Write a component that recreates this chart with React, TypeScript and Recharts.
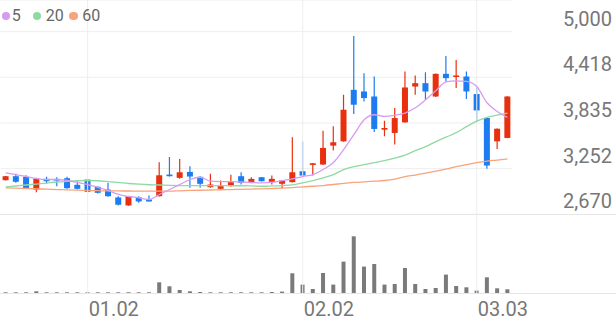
import React from 'react';
import { ComposedChart, Bar, Line, XAxis, YAxis, CartesianGrid, ReferenceLine } from 'recharts';

const dates = ['12.18','12.19','12.22','12.23','12.24','12.26','12.29','12.30','01.02','01.05','01.06','01.07','01.08','01.09','01.12','01.13','01.14','01.15','01.16','01.19','01.20','01.21','01.22','01.23','01.26','01.27','01.28','01.29','01.30','02.02','02.03','02.04','02.05','02.06','02.09','02.10','02.11','02.12','02.13','02.19','02.20','02.23','02.24','02.25','02.26','02.27','03.03','03.04','03.05','03.06'];
const opens = [3105,3156,3148,2986,3122,3122,3130,3046,3113,3021,2986,2885,2783,2885,2859,2901,3177,3135,3211,3148,3016,2995,3029,3156,3071,3143,3084,3059,3080,3219,3300,3305,3546,3601,4258,4237,4173,3750,3708,3843,4300,4343,4173,4462,4428,4428,4204,3898,3601,3644];
const highs = [3160,3186,3168,3135,3148,3143,3148,3092,3122,3028,3071,2901,2905,2901,2910,3334,3402,3377,3283,3156,3186,3101,3173,3206,3143,3147,3165,3105,3652,3600,3325,3737,3792,4195,4945,4471,4428,3864,4025,4491,4440,4483,4466,4691,4640,4491,4288,3902,3766,4177];
const lows = [3100,3072,2995,2952,3063,3028,2995,2986,2952,2936,2893,2783,2780,2817,2830,2897,3152,3122,3008,3008,3008,2990,3025,3050,3067,3088,3050,2999,3076,3160,3164,3300,3483,3597,3949,4110,3720,3665,3559,3839,4195,4131,4165,4364,4280,4140,3855,3250,3504,3640];
const closes = [3156,3085,3003,3126,3092,3100,3003,2995,2957,2944,2901,2792,2901,2834,2834,3168,3156,3206,3152,3059,3050,3029,3080,3071,3122,3092,3122,3101,3206,3164,3321,3517,3589,4004,4068,4153,3759,3771,3898,4288,4343,4237,4462,4407,4441,4237,3995,3292,3762,4173];
const ma5 = [3199,3177,3152,3126,3114,3114,3101,3076,3050,3012,2974,2923,2897,2881,2859,2923,2986,3050,3114,3143,3092,3088,3088,3082,3076,3072,3076,3101,3122,3152,3177,3241,3330,3495,3686,3877,3940,3919,3934,3962,4029,4131,4246,4360,4373,4367,4300,4093,3982,3906];
const ma20 = [3020,3031,3044,3056,3069,3082,3091,3098,3101,3098,3088,3076,3063,3054,3047,3044,3040,3037,3037,3037,3037,3036,3035,3034,3032,3028,3032,3037,3046,3072,3101,3135,3177,3241,3279,3304,3330,3355,3387,3425,3483,3533,3597,3654,3711,3788,3858,3906,3934,3962];
const ma60 = [3008,3004,2999,2995,2990,2986,2981,2978,2974,2971,2969,2968,2967,2966,2965,2965,2966,2970,2974,2977,2980,2983,2986,2989,2992,2995,2999,3004,3011,3021,3028,3037,3050,3065,3076,3084,3092,3101,3120,3152,3171,3196,3222,3247,3279,3304,3330,3349,3362,3377];
const volumes = [10,10,10,20,10,10,10,10,10,10,10,10,10,10,10,110,70,33,20,13,10,10,10,10,10,10,13,17,200,87,43,203,87,317,570,267,293,87,93,253,93,43,53,187,73,60,27,160,50,40];

const xTickLabels = ['01.02', '02.02', '03.03'];
const yTickValues = [2670, 3252.5, 3835, 4417.5, 5000];
const yTickLabels = ['2,670', '3,252', '3,835', '4,418', '5,000'];
const legendItems = [
  { label: '5', color: '#d79bf0' },
  { label: '20', color: '#8fd9a3' },
  { label: '60', color: '#f7a47c' },
];

const data = dates.map((d, i) => ({
  date: d,
  open: opens[i],
  high: highs[i],
  low: lows[i],
  close: closes[i],
  range: [lows[i], highs[i]],
  ma5: ma5[i],
  ma20: ma20[i],
  ma60: ma60[i],
  volume: volumes[i],
}));

const RED = '#e8300e';
const BLUE = '#1c7cf0';
const GRID = '#eeeeee';
const FONT = 'Roboto, sans-serif';

const Candle = (props: any) => {
  const { x, y, width, height, payload } = props;
  if (!payload) return null;
  const { open, close, high, low } = payload;
  const top = Math.min(y, y + height);
  const h = Math.abs(height);
  const ratio = h / (high - low);
  const yOf = (v: number) => top + (high - v) * ratio;
  const up = close >= open;
  const color = up ? RED : BLUE;
  const bTop = yOf(Math.max(open, close));
  const bBot = yOf(Math.min(open, close));
  const cx = x + width / 2;
  return (
    <g>
      <line x1={cx} x2={cx} y1={top} y2={top + h} stroke={color} strokeWidth={1.2} />
      <rect x={x} y={bTop} width={width} height={Math.max(1.5, bBot - bTop)} fill={color} />
    </g>
  );
};

const YTick = (props: any) => {
  const { y, payload } = props;
  const idx = yTickValues.indexOf(payload.value);
  return (
    <text x={612} y={y - 6} textAnchor="end" fontSize={20} fill="#777" fontFamily={FONT}>
      {idx >= 0 ? yTickLabels[idx] : ''}
    </text>
  );
};

const XTick = (props: any) => {
  const { x, y, payload } = props;
  return (
    <text x={x + 1} y={y + 22.7} textAnchor="start" fontSize={20} fill="#777" fontFamily={FONT}>
      {payload.value}
    </text>
  );
};

export default function App() {
  return (
    <div style={{ position: 'absolute', left: 0, top: 0, width: 616, height: 321, background: '#fff', overflow: 'hidden', fontFamily: FONT }}>
      <div style={{ position: 'absolute', left: 0, top: 0 }}>
        <ComposedChart width={616} height={215} data={data} margin={{ top: 0, right: 0, bottom: 0.7, left: 0.6 }}>
          <CartesianGrid vertical={false} stroke={GRID} />
          <XAxis dataKey="date" hide />
          <YAxis
            orientation="right"
            width={103.4}
            domain={[2670, 5404]}
            ticks={yTickValues}
            interval={0}
            tick={<YTick />}
            axisLine={false}
            tickLine={false}
            allowDataOverflow
          />
          {xTickLabels.map((t) => (
            <ReferenceLine key={t} x={t} stroke={GRID} />
          ))}
          <Line type="monotone" dataKey="ma60" stroke="#f7a47c" strokeWidth={1.3} dot={false} isAnimationActive={false} />
          <Line type="monotone" dataKey="ma20" stroke="#8fd9a3" strokeWidth={1.3} dot={false} isAnimationActive={false} />
          <Line type="monotone" dataKey="ma5" stroke="#d79bf0" strokeWidth={1.3} dot={false} isAnimationActive={false} />
          <Bar dataKey="range" barSize={6} shape={<Candle />} isAnimationActive={false} />
        </ComposedChart>
      </div>
      <div style={{ position: 'absolute', left: 0, top: 214 }}>
        <ComposedChart width={616} height={107} data={data} margin={{ top: 0, right: 103.4, bottom: 0, left: 0.6 }}>
          <XAxis
            dataKey="date"
            ticks={xTickLabels}
            interval={0}
            tick={<XTick />}
            tickLine={false}
            axisLine={false}
            tickSize={0}
            tickMargin={0}
            height={27.7}
          />
          <YAxis hide domain={[0, 793]} />
          {xTickLabels.map((t) => (
            <ReferenceLine key={t} x={t} stroke={GRID} />
          ))}
          <Bar dataKey="volume" barSize={4} fill="#7a7a7a" isAnimationActive={false} />
        </ComposedChart>
      </div>
      <div style={{ position: 'absolute', left: 0, top: 213.8, width: 616, height: 1, background: '#e6e6e6' }} />
      <div style={{ position: 'absolute', left: 0, top: 292.8, width: 616, height: 1, background: '#e6e6e6' }} />
      {legendItems.map((it, i) => {
        const circleLeft = [1.6, 32.6, 69.2][i];
        const textLeft = [11.7, 45.7, 82.3][i];
        return (
          <React.Fragment key={it.label}>
            <div style={{ position: 'absolute', left: circleLeft, top: 11.5, width: 8.5, height: 8.5, borderRadius: '50%', background: it.color }} />
            <div style={{ position: 'absolute', left: textLeft, top: 5.5, fontSize: 16, lineHeight: '20px', color: '#666', fontFamily: FONT }}>{it.label}</div>
          </React.Fragment>
        );
      })}
    </div>
  );
}
